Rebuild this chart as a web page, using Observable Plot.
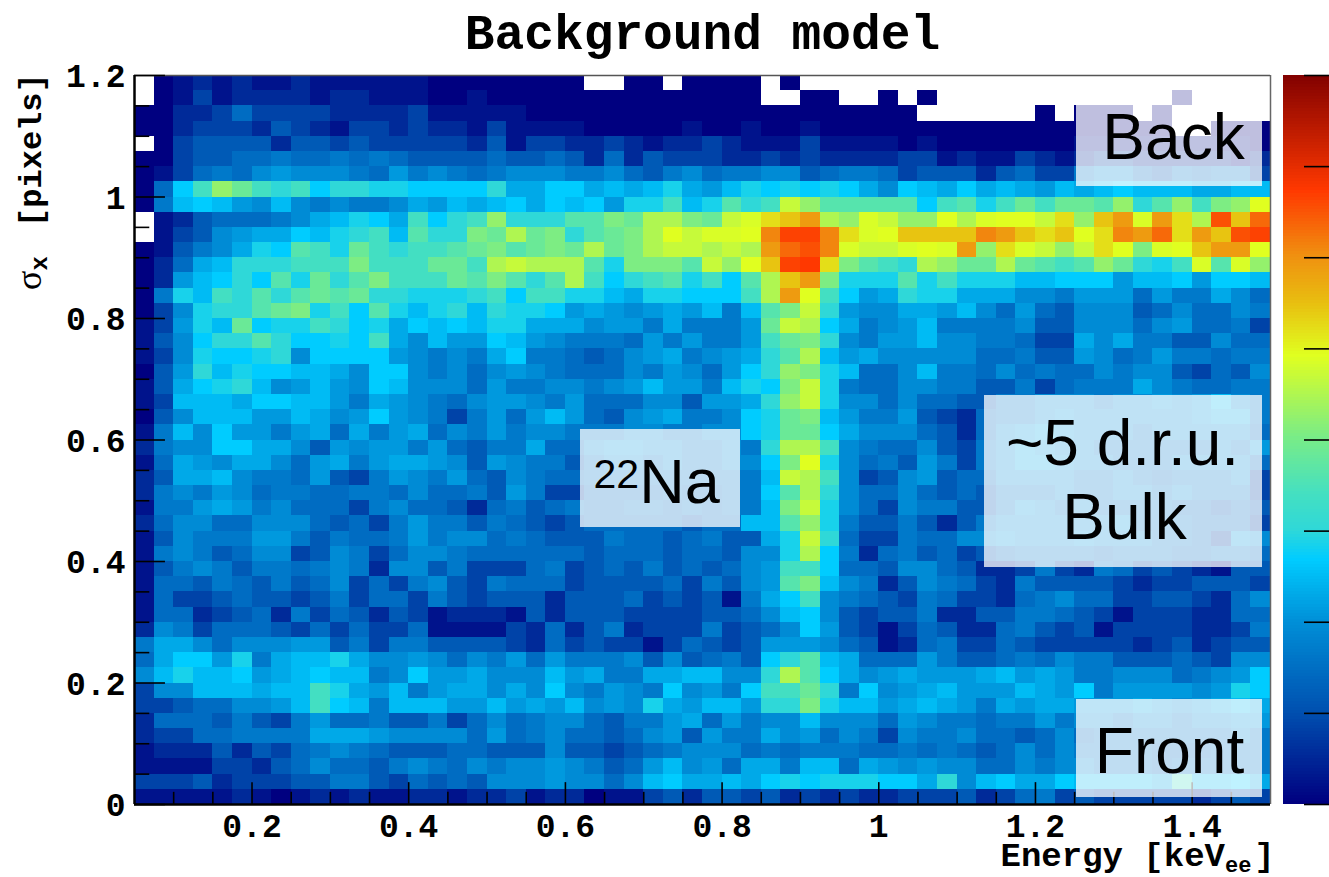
<!DOCTYPE html>
<html><head><meta charset="utf-8">
<style>html,body{margin:0;padding:0;background:#fff;overflow:hidden}svg{display:block}</style>
<script src="https://cdn.jsdelivr.net/npm/d3@7"></script>
<script src="https://cdn.jsdelivr.net/npm/@observablehq/plot@0.6"></script>
</head><body><div id="chart"></div>
<script>
// Each row is one y bin from sigma_x = 1.2 downwards; each character one energy bin (base-36 level, "." = empty)
const rows = [
".0121211211111100000 000..00.0000.0...... ..................",
".0131222212211100100 000000000000..00..0. 0............0....",
"00223533332222311111 00000000000000000000 ......0.000.0.....",
"00233324321332322131 11100000100100100000 0000000000000..000",
".0344442443433333241 33223212232111311110 1000000011111111 10",
"00344556556565444454 45425243332232322223 312113212332222212",
"01356578777658676567 77667546756677456653 444245336775465663",
"05beigedebddccbbbbd9 9bb9a9ac98acbcbcb97b a9b9a98a9abaaa99aa",
"06aba87a76766798a9ab 9bab8cceacfdekifffff befcegeggfidfiehim",
".124555679acb9ebdeid ddffhgjjhgklnopjilki imjlmmknioplpnjsor",
".1347899bacdeafddhgj ghdfghjmkllmqttqnlmo oooqponomnqprnpost",
"014679cbfecgedeefghf ghgjghjkkjkjprsqlkkl mlpinlkiknmhlmoppm",
"0259adddeeeheeeggejk jjjfchhhfkimotunhfed jiggjgfefigdcelfli",
"028abdbfcgdfheeegfhf dfjebdefcebfjophcccf cecccaabbb8aab8bba",
"06caedfdfgfgddcccdeb eecca9ccbbbejpmeb89d cc9997768885866975",
"037cddfghcebfcacdadc cb8987898a6afhkd8779 98a758547774575576",
"138cagbccedbc9babacc 999788696668gkjb9678 a66667447775785563",
"147bddfdbbcbe97a88ba 876665868668eghd7688 a77665339796644755",
"137cbbcd7bbbb876769b 665457896789dfja8977 777556448756866566",
"048dacbbaa97bb767578 76555768758bdihca557 a66575655767743547",
"149bcda78a87ba777586 677678a886acbhkc6557 766446356669765566",
"13aaa9bbaa8698765788 768555774889dikc7757 554466777677878a76",
"047aaa88a978b8763685 8a854789667bcgha8668 432566787777778996",
"16a7b886895968957686 77666776677bcggb9777 542578987776777775",
"2677bb99748788685466 955788776676djje7655 743679877666666768",
"15987997589689987487 664677676677bhmc7564 863679987766677775",
"2499a766584368768547 655666666666akje7347 845577776676566673",
"26768756655665755648 633555565566bfjd7557 545466676677676663",
"16689867555367554256 456556656566ahkc7537 664468767666655454",
"25775577754536866465 43455555455aafic6446 424677777786665553",
"14766688646556867756 5444655456449ckd5336 557787778777665387",
"16764577347635776555 5554555455477cjb6256 453456666566655665",
"14676466567627746333 5634546454578eeb5547 754223632653432144",
"15546546457353674365 5534444536478fha7624 765326444432334443",
"15334544346355364344 4244453434169be76543 653325675533443257",
"15523452635424312221 4244433334457ab74344 622446654313332255",
"27635554353533511113 25246233363457b84313 542256434133332236",
"69975777884636644443 25343313543488875412 563354333332342344",
"59bb8c69aac977875768 586667474564bdfa9555 864456576644454377",
"7acaab89abaa67b88977 7a896699aa77djfb9789 8889a898667775678b",
"377aaa9aaec98a689979 7b76876b786beegd6b78 9a888a98b6888878cb",
"33455778aeba6aaa88a8 98a787c98aa8ddhcaa89 a986989988898789a9",
"25554643685564463575 67754668958677a77758 766566867767767788",
"23355666699987777585 67554578486697857637 667554575666666676",
"12224243567654445544 47443456777565666556 565457576666555666",
"11113324575546765767 7876458a785996aa5987 877557677666566666",
"33342333446643545477 787757ab99a9bcbcccbb 9d7ab99baaaa9eaab9",
"11111210121211221223 12201134244342323223 334235634333332343"
].map(r => r.replace(/ /g, ""));
rows.forEach((r, i) => { if (r.length !== 58) throw new Error("row " + i + " has " + r.length); });
// colour position (0..1 of the palette bar) for every level character
const levelValues = [0,.03,.065,.105,.145,.18,.205,.24,.262,.285,.31,.334,.355,.375,.42,.45,.48,.505,.53,.56,.585,.605,.613,.65,.68,.735,.76,.79,.815,.83,.84];
const paletteStops = [0,.125,.25,.334,.375,.425,.5,.613,.684,.75,.84,1];
const paletteColors = ["#000080","#0050b0","#0090d8","#00ccff","#2fd8d8","#45e0c0","#78ec88","#e0ff20","#e8c010","#f09010","#ff3800","#800000"];
const xMajor = [.2,.4,.6,.8,1,1.2,1.4];
const xMinor = [.1,.15,.25,.3,.35,.45,.5,.55,.65,.7,.75,.85,.9,.95,1.05,1.1,1.15,1.25,1.3,1.35,1.45];
const yMajor = [0,.2,.4,.6,.8,1,1.2];
const yMinor = [.05,.1,.15,.25,.3,.35,.45,.5,.55,.65,.7,.75,.85,.9,.95,1.05,1.1,1.15];
const barTicks = [0,.125,.25,.375,.5,.625,.75,.875,1];
const boxes = [
  {x1:1.2524,x2:1.4898,y1:1.0173,y2:1.1506},
  {x1:1.375,x2:1.4,y1:1.15,y2:1.175},
  {x1:1.2524,x2:1.4898,y1:.0115,y2:.1728},
  {x1:1.1349,x2:1.4898,y1:.3901,y2:.6733},
  {x1:.6193,x2:.8235,y1:.456,y2:.6173}
];
const notes = [
  {t:"Back",x:1.3762,y:1.0963},
  {t:"Front",x:1.3711,y:.0856},
  {t:"~5 d.r.u.",x:1.3111,y:.5926},
  {t:"Bulk",x:1.3136,y:.4708}
];

const cells = [];
rows.forEach((r, i) => [...r].forEach((c, j) => {
  if (c !== ".") cells.push({c:j, r:i, v:levelValues[parseInt(c, 36)]});
}));
const barSteps = d3.range(0, 1, 1/240);

const mono = "'Liberation Mono','DejaVu Sans Mono',monospace";
const sans = "'Liberation Sans',Arial,sans-serif";
const tick = {stroke:"#000", strokeWidth:1.6};
const svg = Plot.plot({
  width:1329, height:877, marginLeft:134, marginRight:59, marginTop:75, marginBottom:73,
  style:{background:"#fff", overflow:"hidden"},
  x:{domain:[.05,1.5], axis:null},
  y:{domain:[0,1.2], axis:null},
  color:{type:"linear", domain:paletteStops, range:paletteColors, clamp:true},
  marks:[
    Plot.rect(cells,{x1:d=>.05+.025*d.c, x2:d=>.05+.025*(d.c+1), y1:d=>1.2-.025*(d.r+1), y2:d=>1.2-.025*d.r, fill:"v", inset:0, shapeRendering:"crispEdges"}),
    Plot.ruleX([1.5],{stroke:"#666",strokeWidth:1.5}),
    Plot.ruleY([1.2],{stroke:"#555",strokeWidth:1.5}),
    Plot.ruleX(xMajor,{y1:0,y2:.036,...tick}),
    Plot.ruleX(xMinor,{y1:0,y2:.02,...tick}),
    Plot.ruleY(yMajor,{x1:.05,x2:.0895,...tick}),
    Plot.ruleY(yMinor,{x1:.05,x2:.0695,...tick}),
    Plot.ruleX([.05],{stroke:"#000",strokeWidth:2.5}),
    Plot.ruleY([0],{stroke:"#000",strokeWidth:2.5}),
    Plot.rect(boxes,{x1:"x1",x2:"x2",y1:"y1",y2:"y2",fill:"#fff",fillOpacity:.75,inset:0,shapeRendering:"crispEdges"}),
    Plot.text(notes,{x:"x",y:"y",text:"t",fontFamily:sans,fontSize:64,fill:"#000"}),
    Plot.text(["22Na"],{x:[.6359],y:[.53],text:d=>d,textAnchor:"start",fontFamily:sans,fontSize:63,fill:"#000"}),
    Plot.rect(barSteps,{x1:()=>1.5166,x2:()=>1.5753,y1:d=>d*1.2,y2:d=>(d+1/240)*1.2,fill:d=>d,inset:0,shapeRendering:"crispEdges"}),
    Plot.ruleY(barTicks,{y:d=>d*1.2,x1:1.5434,x2:1.5753,stroke:"#000",strokeWidth:1.6}),
    Plot.axisX({anchor:"bottom",ticks:xMajor,tickFormat:d=>String(d),tickSize:0,tickPadding:9,label:null,fontFamily:mono,fontWeight:"bold",fontSize:33,fill:"#000"}),
    Plot.axisY({anchor:"left",ticks:yMajor,tickFormat:d=>String(d),tickSize:0,tickPadding:9,dy:1,label:null,fontFamily:mono,fontWeight:"bold",fontSize:33,fill:"#000"}),
    Plot.text(["Background model"],{x:[.775],y:[1.269],text:d=>d,fontFamily:mono,fontWeight:"bold",fontSize:49.5,fill:"#000"}),
    Plot.text(["Energy [keVee]"],{x:[1.1554],y:[-.083],text:d=>d,textAnchor:"start",fontFamily:mono,fontWeight:"bold",fontSize:34,fill:"#000"}),
    Plot.text(["σx [pixels]"],{x:[-.083],y:[.847],text:d=>d,rotate:-90,textAnchor:"start",fontFamily:mono,fontWeight:"bold",fontSize:32,fill:"#000"})
  ]
});
function spans(key, parts){
  d3.select(svg).selectAll("text").filter(function(){return this.textContent===key;}).each(function(){
    const t=d3.select(this); t.text(null);
    parts.forEach(p=>{const s=t.append("tspan").text(p.t);
      if(p.dy!=null)s.attr("dy",p.dy); if(p.dx!=null)s.attr("dx",p.dx);
      if(p.size)s.attr("font-size",p.size); if(p.family)s.attr("font-family",p.family); if(p.weight)s.attr("font-weight",p.weight);});
  });
}
spans("22Na",[{t:"22",size:41,dy:-15},{t:"Na",dy:15}]);
spans("Energy [keVee]",[{t:"Energy [keV"},{t:"ee",size:22,dy:6},{t:"]",dy:-6,dx:3}]);
spans("σx [pixels]",[{t:"σ",family:"'Liberation Serif',serif",weight:"normal",size:36},{t:"x",size:24,dy:6},{t:" [pixels]",dy:-6,dx:10}]);
document.getElementById("chart").append(svg);
</script></body></html>
